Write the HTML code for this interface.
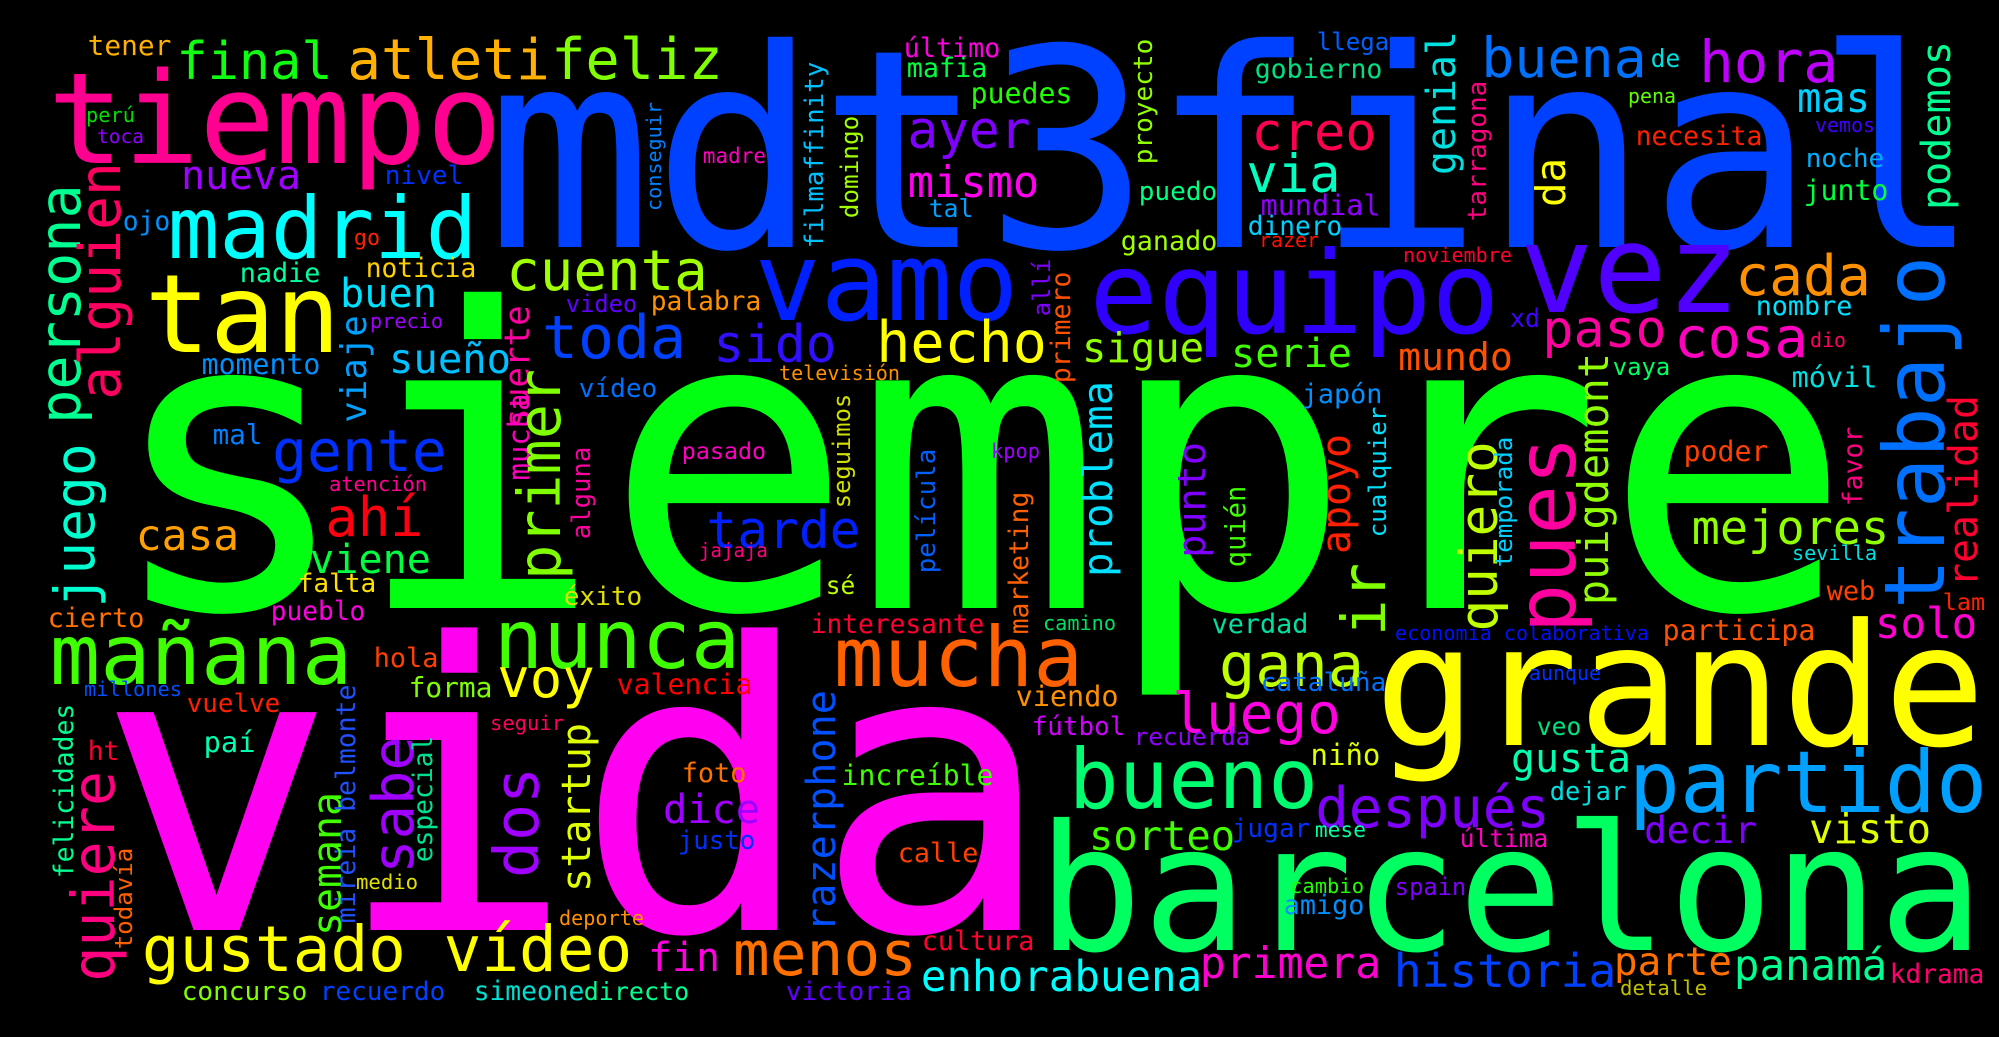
<!DOCTYPE html>
<html>
<head>
<meta charset="utf-8">
<style>
html,body{margin:0;padding:0;background:#000;}
svg{display:block;}
text{font-family:"DejaVu Sans Mono","Liberation Mono",monospace;}
</style>
</head>
<body>
<svg id="cloud" width="1999" height="1037" viewBox="0 0 1999 1037" xmlns="http://www.w3.org/2000/svg">
<rect width="1999" height="1037" fill="#000"></rect>
</svg>
<script>
// Horizontal words: [word, leftX, rightX, baselineY, color]
const hWords = [
["siempre",125,1832,608,"#00ff10"],
["vida",117,1033,930,"#ff00f0"],
["mdt3final",500,1967,247,"#0040ff"],
["grande",1383,1977,745,"#ffff00"],
["barcelona",1046,1975,950,"#00ff60"],
["tiempo",54,496,163,"#ff0090"],
["madrid",172,473,258,"#00ffff"],
["tan",150,335,352,"#ffff00"],
["vamo",760,1013,320,"#0020ff"],
["equipo",1095,1494,333,"#3000ff"],
["vez",1526,1734,312,"#5000ff"],
["nunca",498,736,668,"#40ff00"],
["mañana",54,348,684,"#40ff00"],
["mucha",838,1079,686,"#ff6000"],
["bueno",1073,1314,808,"#00ff70"],
["partido",1633,1983,812,"#00a0ff"],
["gustado vídeo",145,629,971,"#ffff00"],
["tener",89,170,55,"#ffb000"],
["final",179,330,79,"#10ff10"],
["atleti",350,547,79,"#ffb000"],
["feliz",554,720,79,"#80ff00"],
["perú",87,134,122,"#00e000"],
["toca",98,143,143,"#9000ff"],
["nueva",183,299,189,"#a000ff"],
["nivel",386,462,184,"#0030ff"],
["ojo",124,169,230,"#0090ff"],
["go",355,379,245,"#ff2000"],
["nadie",241,319,282,"#00ffa0"],
["noticia",367,475,277,"#ffd000"],
["cuenta",509,705,290,"#a0ff00"],
["buen",342,435,307,"#00e0ff"],
["precio",371,442,328,"#a000ff"],
["video",567,636,312,"#6000ff"],
["palabra",652,760,310,"#ff9000"],
["toda",545,683,358,"#0040ff"],
["momento",203,319,374,"#0090ff"],
["sueño",391,509,373,"#00c0ff"],
["vídeo",580,656,397,"#0070ff"],
["último",905,999,57,"#ff00e0"],
["mafia",908,986,77,"#00ff40"],
["madre",704,765,163,"#ff00c0"],
["puedes",972,1071,103,"#20ff00"],
["ayer",910,1028,148,"#8000ff"],
["mismo",910,1037,197,"#ff00f0"],
["tal",930,972,217,"#00a0ff"],
["puedo",1140,1216,200,"#00ff80"],
["ganado",1122,1216,250,"#a0ff00"],
["llega",1318,1388,50,"#0060ff"],
["gobierno",1256,1381,78,"#00e080"],
["creo",1254,1374,150,"#ff0050"],
["via",1249,1338,192,"#00ffc0"],
["mundial",1262,1379,215,"#9000ff"],
["dinero",1249,1341,235,"#00d0ff"],
["razer",1260,1318,247,"#ff1000"],
["sido",716,834,362,"#3010ff"],
["hecho",879,1044,362,"#ffff00"],
["televisión",780,899,380,"#ff9000"],
["sigue",1084,1202,362,"#90ff00"],
["serie",1233,1350,367,"#40ff00"],
["japón",1303,1381,403,"#0090ff"],
["buena",1484,1644,77,"#0070ff"],
["de",1652,1679,67,"#00e0e0"],
["hora",1702,1835,82,"#c000ff"],
["pena",1629,1675,103,"#60ff00"],
["mas",1799,1868,112,"#00d0ff"],
["vemos",1816,1874,132,"#4000ff"],
["necesita",1637,1761,145,"#ff2000"],
["noche",1807,1883,167,"#00b0ff"],
["junto",1805,1887,200,"#00ff40"],
["noviembre",1404,1511,262,"#ff0030"],
["cada",1738,1868,295,"#ff9000"],
["nombre",1757,1851,315,"#00e0ff"],
["xd",1511,1539,327,"#4000ff"],
["paso",1545,1664,347,"#ff00a0"],
["cosa",1677,1805,357,"#ff00c0"],
["dio",1811,1845,347,"#ff0060"],
["mundo",1400,1511,370,"#ff5000"],
["vaya",1614,1669,375,"#00ff60"],
["móvil",1793,1876,387,"#00e0e0"],
["mal",214,261,444,"#0080ff"],
["gente",275,444,471,"#0030ff"],
["atención",330,426,491,"#ff0090"],
["casa",138,237,550,"#ffa000"],
["ahí",328,420,536,"#ff0010"],
["viene",312,429,573,"#00ff40"],
["falta",299,375,592,"#ffe000"],
["éxito",565,641,605,"#e0e000"],
["pueblo",272,364,620,"#ff00e0"],
["cierto",49,143,627,"#ff7000"],
["hola",375,437,667,"#ff4000"],
["forma",410,491,697,"#80ff00"],
["voy",500,592,697,"#ffff00"],
["valencia",618,751,694,"#ff0000"],
["millones",85,181,696,"#0050ff"],
["vuelve",188,279,712,"#ff2000"],
["ht",89,118,760,"#ff0030"],
["paí",205,254,752,"#00ffb0"],
["seguir",491,563,730,"#ff0060"],
["medio",357,417,889,"#e0e000"],
["deporte",560,643,925,"#ff9000"],
["concurso",183,306,1000,"#80ff00"],
["recuerdo",321,444,1000,"#0040ff"],
["simeone",475,583,1000,"#00e0d0"],
["directo",585,688,1000,"#00ff90"],
["fin",650,718,971,"#ff00e0"],
["dice",665,758,823,"#a000ff"],
["justo",679,754,849,"#0030ff"],
["foto",683,745,782,"#ff7000"],
["pasado",683,765,459,"#ff00c0"],
["kpop",992,1039,458,"#a000ff"],
["tarde",709,858,548,"#0020ff"],
["jajaja",700,767,557,"#ff0080"],
["sé",827,854,594,"#c0ff00"],
["interesante",812,983,633,"#ff0030"],
["camino",1044,1115,630,"#00e060"],
["verdad",1213,1307,633,"#00e0a0"],
["gana",1222,1361,686,"#c0ff00"],
["cataluña",1262,1385,691,"#0070ff"],
["viendo",1017,1117,706,"#ff9000"],
["luego",1175,1338,733,"#ff00e0"],
["fútbol",1033,1124,735,"#d000ff"],
["recuerda",1135,1249,745,"#9000ff"],
["niño",1312,1379,765,"#e0ff00"],
["increíble",843,992,785,"#40ff00"],
["después",1318,1547,827,"#8000ff"],
["sorteo",1091,1233,850,"#40ff00"],
["jugar",1233,1309,837,"#0030ff"],
["mese",1316,1365,837,"#00ffa0"],
["calle",899,977,862,"#ff4000"],
["cambio",1291,1363,893,"#20ff00"],
["amigo",1285,1363,914,"#0090ff"],
["cultura",923,1033,950,"#ff0030"],
["menos",736,914,975,"#ff7000"],
["enhorabuena",923,1200,991,"#00ffff"],
["primera",1202,1379,978,"#ff00d0"],
["victoria",787,910,1000,"#6000ff"],
["poder",1685,1767,461,"#ff4000"],
["mejores",1694,1887,544,"#90ff00"],
["sevilla",1793,1876,560,"#00e0e0"],
["web",1828,1874,600,"#ff4000"],
["lam",1944,1984,610,"#ff2000"],
["solo",1877,1975,638,"#ff00d0"],
["participa",1664,1814,640,"#ff5000"],
["economía colaborativa",1396,1648,640,"#0010ff"],
["aunque",1530,1600,680,"#0030ff"],
["veo",1538,1580,735,"#00e080"],
["gusta",1513,1629,772,"#00ffb0"],
["dejar",1551,1625,800,"#00e0e0"],
["decir",1646,1755,843,"#8000ff"],
["visto",1811,1929,843,"#e0ff00"],
["última",1461,1547,847,"#ff00c0"],
["spain",1396,1465,895,"#8000ff"],
["historia",1396,1614,987,"#0040ff"],
["parte",1616,1730,975,"#ff7000"],
["panamá",1736,1885,980,"#00ff90"],
["kdrama",1891,1983,983,"#ff0070"],
["detalle",1621,1706,995,"#c0c000"]
];
// Vertical words (read bottom-to-top): [word, baselineX, topY, bottomY, color]
const vWords = [
["trabajo",1944,260,605,"#0070ff"],
["persona",80,187,421,"#00ff90"],
["alguien",120,165,397,"#ff0060"],
["conseguir",661,103,210,"#0080ff"],
["viaje",366,317,421,"#00a0ff"],
["suerte",529,307,427,"#ff00a0"],
["mucha",529,395,479,"#ff00c0"],
["filmaffinity",823,63,247,"#00c0ff"],
["domingo",858,117,217,"#a0ff00"],
["proyecto",1152,40,163,"#90ff00"],
["allí",1050,260,315,"#8000ff"],
["primero",1070,273,382,"#ff5000"],
["genial",1455,33,173,"#00e0e0"],
["tarragona",1486,82,220,"#ff0080"],
["podemos",1950,43,208,"#00ff90"],
["da",1565,160,205,"#ffff00"],
["puigdemont",1608,355,603,"#90ff00"],
["realidad",1977,397,585,"#ff0030"],
["primer",560,372,577,"#80ff00"],
["alguna",590,448,538,"#ff00a0"],
["juego",94,446,605,"#00ffd0"],
["felicidades",73,705,877,"#00ff90"],
["quiere",114,774,979,"#ff0080"],
["todavía",132,849,948,"#ff6000"],
["semana",341,794,934,"#40ff00"],
["mireia belmonte",355,686,922,"#2050ff"],
["sabe",413,739,871,"#a000ff"],
["especial",432,737,861,"#00e090"],
["dos",538,770,875,"#a000ff"],
["startup",590,725,890,"#e0ff00"],
["seguimos",850,395,507,"#d0e000"],
["película",935,450,572,"#0060ff"],
["problema",1112,383,575,"#00e0ff"],
["punto",1205,444,556,"#8000ff"],
["quién",1245,487,566,"#40ff00"],
["apoyo",1350,436,552,"#ff2000"],
["cualquier",1386,408,536,"#00e0ff"],
["ir",1385,566,633,"#80ff00"],
["marketing",1028,493,633,"#ff6000"],
["razerphone",835,692,930,"#0050ff"],
["quiero",1497,444,629,"#c0ff00"],
["pues",1575,440,629,"#ff00a0"],
["temporada",1512,438,566,"#00d0ff"],
["favor",1862,428,505,"#ff0080"]
];

const svg = document.getElementById('cloud');
const NS = 'http://www.w3.org/2000/svg';
function slug(w){ return w.normalize('NFD').replace(/[\u0300-\u036f]/g,'').replace(/[^a-z0-9]+/gi,'-').toLowerCase(); }

hWords.forEach(function(r){
  const n = [...r[0]].length;
  const span = r[2] - r[1];
  const size = span / (0.6 * n - 0.1);
  const t = document.createElementNS(NS, 'text');
  
  
  t.setAttribute('x', (r[1] - 0.05 * size).toFixed(1));
  t.setAttribute('y', r[3]);
  t.setAttribute('font-size', size.toFixed(1));
  t.setAttribute('textLength', (span + 0.1 * size).toFixed(1));
  t.setAttribute('lengthAdjust', 'spacingAndGlyphs');
  t.setAttribute('fill', r[4]);
  t.textContent = r[0];
  svg.appendChild(t);
});

vWords.forEach(function(r){
  const n = [...r[0]].length;
  const span = r[3] - r[2];
  const size = span / (0.6 * n - 0.1);
  const t = document.createElementNS(NS, 'text');
  
  
  t.setAttribute('transform', 'translate(' + r[1] + ',' + (r[3] + 0.05 * size).toFixed(1) + ') rotate(-90)');
  t.setAttribute('x', 0);
  t.setAttribute('y', 0);
  t.setAttribute('font-size', size.toFixed(1));
  t.setAttribute('textLength', (span + 0.1 * size).toFixed(1));
  t.setAttribute('lengthAdjust', 'spacingAndGlyphs');
  t.setAttribute('fill', r[4]);
  t.textContent = r[0];
  svg.appendChild(t);
});
</script>
</body>
</html>
